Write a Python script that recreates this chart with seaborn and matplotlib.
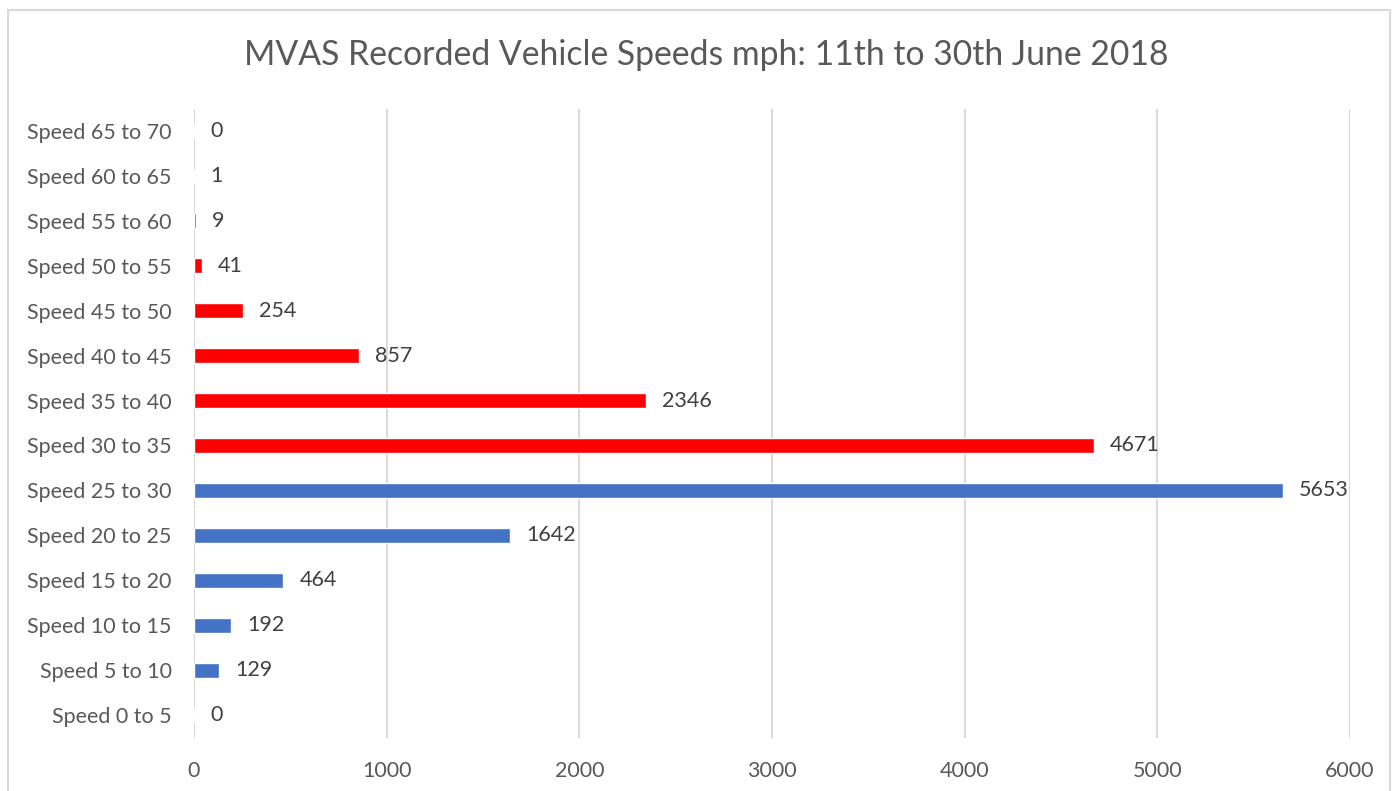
import matplotlib
matplotlib.use("Agg")
import matplotlib.pyplot as plt
import seaborn as sns
import pandas as pd
from matplotlib.patches import Rectangle

# data (top to bottom)
categories = ["Speed 65 to 70", "Speed 60 to 65", "Speed 55 to 60", "Speed 50 to 55",
              "Speed 45 to 50", "Speed 40 to 45", "Speed 35 to 40", "Speed 30 to 35",
              "Speed 25 to 30", "Speed 20 to 25", "Speed 15 to 20", "Speed 10 to 15",
              "Speed 5 to 10", "Speed 0 to 5"]
counts = [0, 1, 9, 41, 254, 857, 2346, 4671, 5653, 1642, 464, 192, 129, 0]
over_limit = [True] * 8 + [False] * 6
x_ticks = [0, 1000, 2000, 3000, 4000, 5000, 6000]

df = pd.DataFrame({"speed": categories, "count": counts})
palette = {c: ("#FF0000" if o else "#4472C4") for c, o in zip(categories, over_limit)}

sns.set_style("white")
plt.rcParams["font.family"] = ["Lato", "DejaVu Sans"]
text_col = "#595959"

fig = plt.figure(figsize=(13.95, 7.91), dpi=100)
ax = fig.add_axes([0.1391, 0.0676, 0.8287, 0.7952])

sns.barplot(data=df, x="count", y="speed", hue="speed", palette=palette,
            order=categories, orient="h", width=0.33, legend=False, ax=ax, saturation=1)

ax.set_xlim(0, 6000)
ax.set_ylim(len(categories) - 0.5, -0.5)
ax.set_xticks(x_ticks)
ax.set_xticklabels([str(t) for t in x_ticks])
ax.grid(axis="x", color="#d9d9d9", linewidth=1.5)
ax.set_axisbelow(True)
for s in ax.spines.values():
    s.set_visible(False)
ax.tick_params(axis="both", length=0, labelsize=15.5, colors=text_col)
ax.tick_params(axis="y", pad=16)
ax.tick_params(axis="x", pad=17)
ax.set_xlabel("")
ax.set_ylabel("")

# value labels
for i, v in enumerate(counts):
    ax.annotate(str(v), (v, i), xytext=(16, 0), textcoords="offset pixels",
                va="center", ha="left", fontsize=15.5, color="#404040")

fig.text(0.506, 0.930, "MVAS Recorded Vehicle Speeds mph: 11th to 30th June 2018",
         ha="center", va="center", fontsize=24.3, color=text_col)

# outer chart border
fig.patches.append(Rectangle((8 / 1395, -0.02), 1382 / 1395, 1 - 10 / 791 + 0.02,
                             transform=fig.transFigure, fill=False,
                             edgecolor="#d9d9d9", linewidth=1.5))

fig.savefig("out.png", dpi=100)
